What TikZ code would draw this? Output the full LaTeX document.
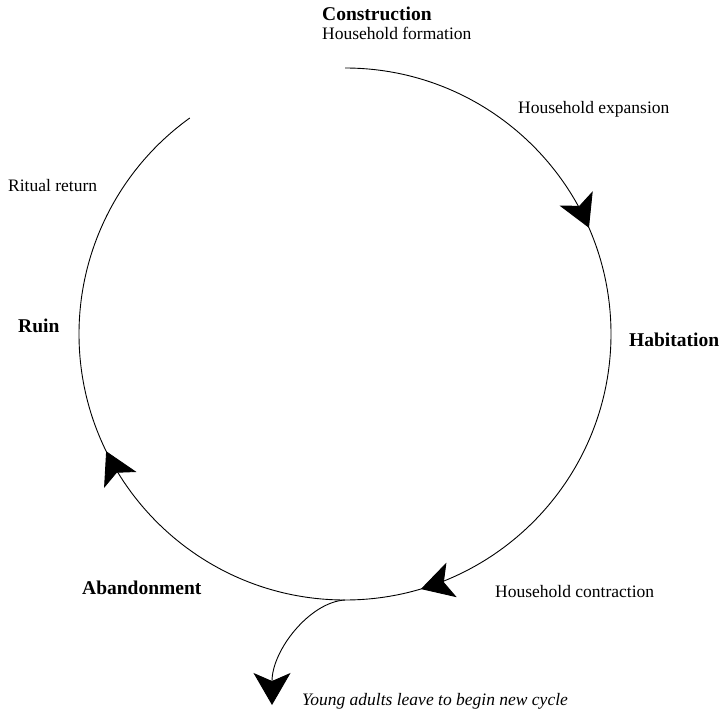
\documentclass[tikz,border=0pt]{standalone}
\usepackage{fontspec}
\setmainfont{Liberation Serif}
\usetikzlibrary{arrows.meta,decorations.markings}
\tikzset{bigtip/.tip={Stealth[length=32pt,width=36pt,inset=8pt]}}
\begin{document}
\begin{tikzpicture}[x=1pt,y=1pt,
  cycleline/.style={line width=0.9pt},
  stage/.style={anchor=base west,inner sep=0pt,font=\fontsize{19.5}{22}\selectfont\bfseries},
  note/.style={anchor=base west,inner sep=0pt,font=\fontsize{17.5}{20}\selectfont},
  branch/.style={anchor=base west,inner sep=0pt,font=\fontsize{17.5}{20}\selectfont\itshape}]
\useasboundingbox (0,0) rectangle (723,716);
\coordinate (ctr) at (345,382);
\coordinate (top) at ([shift={(90:266)}]ctr);
\coordinate (split) at ([shift={(-90:266)}]ctr);
\coordinate (leave) at (272,11);

% life cycle of the house, drawn clockwise from the top
\draw[cycleline, postaction={decorate}, decoration={markings,
    mark=at position 0.205 with {\arrow{bigtip}},
    mark=at position 0.504 with {\arrow{bigtip}},
    mark=at position 0.752 with {\arrow{bigtip}}}]
  (top) arc[start angle=90, end angle=-234.3, radius=266];

% branch leaving the cycle at its lowest point
\draw[cycleline, -{Stealth[length=32pt,width=37pt,inset=8pt]}]
  (split) .. controls (310,114) and (272,66) .. (leave);

\node[stage] (construction) at (322,695) {Construction};
\node[note] (formation) at (322,676) {Household formation};
\node[note] (expansion) at (518,602) {Household expansion};
\node[stage] (habitation) at (629,369) {Habitation};
\node[note] (contraction) at (495,119) {Household contraction};
\node[branch] (young) at (302,11) {Young adults leave to begin new cycle};
\node[stage] (abandonment) at (82,122) {Abandonment};
\node[stage] (ruin) at (18,383) {Ruin};
\node[note] (ritual) at (8,524) {Ritual return};
\end{tikzpicture}
\end{document}
